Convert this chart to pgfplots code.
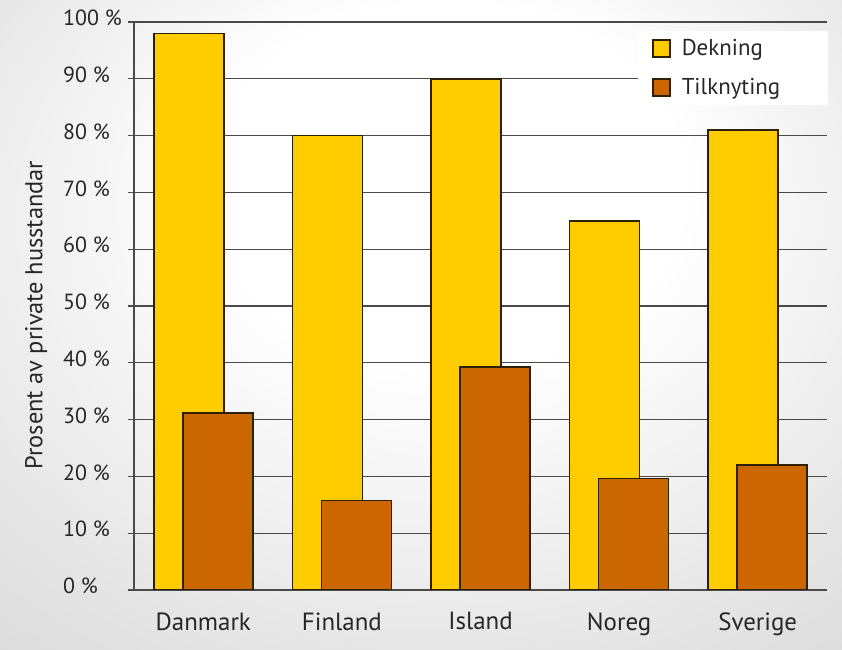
\documentclass[border=0pt]{standalone}
\usepackage{fontspec}
\setmainfont{PT Sans}
\usepackage{pgfplots}
\usepackage{pgfplotstable}
\pgfplotsset{compat=1.18}

\definecolor{dekning}{HTML}{FFCC00}
\definecolor{tilknyt}{HTML}{CC6600}
\definecolor{barline}{HTML}{2E2005}
\definecolor{gridc}{HTML}{4A4A4A}

% soft grey backdrop, white patch top middle
\pgfdeclareradialshading{bgshade}{\pgfpoint{2bp}{14bp}}{%
  color(0bp)=(white); color(14bp)=(white); color(38bp)=(black!13); color(60bp)=(black!24)}

\pgfplotstableread{
idx dekning tilknyting
0   98      31.2
1   80      15.8
2   90      39.3
3   65      19.6
4   81      22.0
}\datatable

\pgfplotsset{
  mylegimg/.style={legend image code/.code={%
    \path[draw=none, fill=none] (0bp,0bp) -- (27bp,0bp);
    \draw[##1, line width=1.5bp] (0bp,-8.5bp) rectangle (17bp,8.5bp);}},
}

\begin{document}
\begin{tikzpicture}
\useasboundingbox (0,0) rectangle (842bp,650bp);
\shade[shading=bgshade] (0,0) rectangle (842bp,650bp);

\begin{axis}[
  at={(134bp,60bp)}, anchor=south west,
  scale only axis, width=693bp, height=568bp,
  xmin=-0.5, xmax=4.5, ymin=0, ymax=100,
  axis x line*=bottom, axis y line*=left,
  axis line style={gridc, line width=1.2bp, -},
  tick align=outside,
  major tick length=6bp, minor tick length=7bp,
  xtick={0,...,4},
  xticklabels={Danmark,Finland,Island,Noreg,Sverige},
  x tick style={draw=none},
  minor xtick={-0.5,0.5,...,4.5},
  minor x tick style={gridc, line width=1.2bp},
  ytick={0,10,...,100},
  yticklabel={\pgfmathparse{int(round(\tick))}\pgfmathresult\ \%},
  y tick style={gridc, line width=1.2bp},
  ymajorgrids,
  grid style={gridc, line width=1.2bp},
  yticklabel style={font=\fontsize{22}{26}\selectfont, text=black!85,
    anchor=west, inner sep=0pt, xshift=-65bp, yshift=4bp},
  xticklabel style={font=\fontsize{25}{29}\selectfont, text=black!85, yshift=-13bp},
  ylabel={Prosent av private husstandar},
  ylabel style={font=\fontsize{24.5}{28}\selectfont, text=black!85,
    at={(axis description cs:-0.141,0.484)}, anchor=center},
  legend style={at={(0.727,0.985)}, anchor=north west, draw=none, fill=white,
    font=\fontsize{23}{27}\selectfont, text=black!85,
    inner xsep=14bp, inner ysep=7bp, row sep=17bp},
  legend cell align=left,
]
\addplot[ybar, bar width=70bp, bar shift=-14.5bp, fill=dekning, draw=barline,
  line width=1.5bp, mylegimg] table[x=idx, y=dekning] {\datatable};
\addlegendentry{\makebox[130bp][l]{Dekning}}
\addplot[ybar, bar width=70bp, bar shift=14.5bp, fill=tilknyt, draw=barline,
  line width=1.5bp, mylegimg] table[x=idx, y=tilknyting] {\datatable};
\addlegendentry{\makebox[130bp][l]{Tilknyting}}
\end{axis}
\end{tikzpicture}
\end{document}
